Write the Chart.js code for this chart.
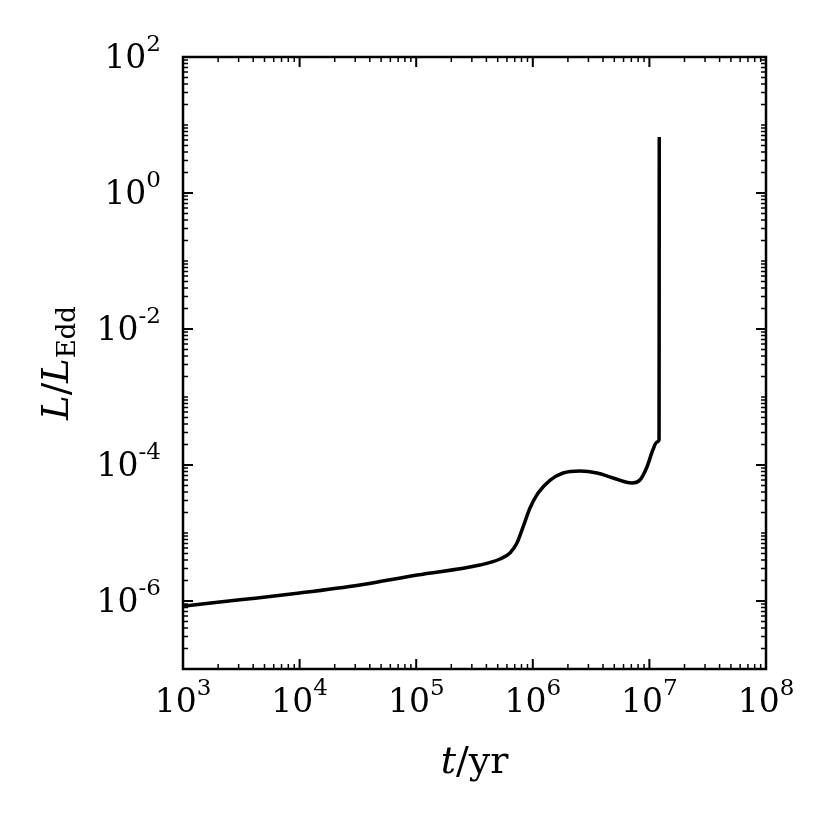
<!DOCTYPE html>
<html>
<head>
<meta charset="utf-8">
<script src="https://cdn.jsdelivr.net/npm/chart.js@4.4.1/dist/chart.umd.min.js"></script>
<style>
  html, body { margin: 0; padding: 0; background: #fff; }
  canvas { display: block; }
</style>
</head>
<body>
<canvas id="myChart" width="830" height="830"></canvas>
<script>
// time in years and luminosity in Eddington units
const tYears = [1.0e3, 3.08e3, 1.0e4, 3.3e4, 1.02e5, 3.52e5, 5.24e5, 6.37e5, 7.31e5, 8.24e5,
                9.46e5, 1.11e6, 1.41e6, 1.82e6, 2.54e6, 3.56e6, 4.88e6, 7.10e6, 8.30e6,
                9.53e6, 1.07e7, 1.16e7, 1.21e7, 1.215e7];
const lumRatio = [8.4e-7, 1.04e-6, 1.31e-6, 1.72e-6, 2.41e-6, 3.38e-6, 4.15e-6, 5.08e-6, 7.13e-6, 1.22e-5,
                  2.33e-5, 3.87e-5, 6.01e-5, 7.62e-5, 8.17e-5, 7.62e-5, 6.44e-5, 5.43e-5, 6.01e-5,
                  9.35e-5, 1.66e-4, 2.18e-4, 2.33e-4, 6.67];

const xTickExps = [3, 4, 5, 6, 7, 8];
const yTickExps = [2, 0, -2, -4, -6];
const xMinExp = 3, xMaxExp = 8;
const yMinExp = -7, yMaxExp = 2;

const points = tYears.map((t, i) => ({ x: t, y: lumRatio[i] }));

const FONT = '"DejaVu Serif", serif';

function drawPow(ctx, exp, x, baseline, align) {
  const base = '10', sup = String(exp);
  ctx.font = '33px ' + FONT;
  const wb = ctx.measureText(base).width;
  ctx.font = '23px ' + FONT;
  const ws = ctx.measureText(sup).width;
  const w = wb + ws;
  let x0 = align == 'center' ? x - w / 2 : x - w;
  ctx.textAlign = 'left';
  ctx.textBaseline = 'alphabetic';
  ctx.font = '33px ' + FONT;
  ctx.fillText(base, x0, baseline);
  ctx.font = '23px ' + FONT;
  ctx.fillText(sup, x0 + wb, baseline - 17);
}

const axesPlugin = {
  id: 'axesPlugin',
  afterDraw(chart) {
    const ctx = chart.ctx;
    const a = chart.chartArea;
    const xs = chart.scales.x, ys = chart.scales.y;
    ctx.save();
    ctx.fillStyle = '#000';
    ctx.strokeStyle = '#000';

    // ticks, pointing inward on all four sides
    for (let e = xMinExp; e <= xMaxExp; e++) {
      for (let m = 1; m < 10; m++) {
        const v = m * Math.pow(10, e);
        if (v > Math.pow(10, xMaxExp)) break;
        const px = xs.getPixelForValue(v);
        const len = m == 1 ? 10 : 5;
        ctx.lineWidth = m == 1 ? 2 : 1.5;
        ctx.beginPath();
        ctx.moveTo(px, a.bottom); ctx.lineTo(px, a.bottom - len);
        ctx.moveTo(px, a.top); ctx.lineTo(px, a.top + len);
        ctx.stroke();
      }
    }
    for (let e = yMinExp; e <= yMaxExp; e++) {
      for (let m = 1; m < 10; m++) {
        const v = m * Math.pow(10, e);
        if (v > Math.pow(10, yMaxExp)) break;
        const py = ys.getPixelForValue(v);
        const len = (m == 1 && yTickExps.includes(e)) ? 10 : 5;
        ctx.lineWidth = len == 10 ? 2 : 1.5;
        ctx.beginPath();
        ctx.moveTo(a.left, py); ctx.lineTo(a.left + len, py);
        ctx.moveTo(a.right, py); ctx.lineTo(a.right - len, py);
        ctx.stroke();
      }
    }

    // frame
    ctx.lineWidth = 2.5;
    ctx.strokeRect(a.left, a.top, a.right - a.left, a.bottom - a.top);

    // tick labels
    xTickExps.forEach(e => {
      drawPow(ctx, e, xs.getPixelForValue(Math.pow(10, e)), a.bottom + 43, 'center');
    });
    yTickExps.forEach(e => {
      drawPow(ctx, e, a.left - 22, ys.getPixelForValue(Math.pow(10, e)) + 11, 'right');
    });

    // x axis title: t/yr
    ctx.textBaseline = 'alphabetic';
    ctx.textAlign = 'left';
    ctx.font = 'italic 38px ' + FONT;
    const wt = ctx.measureText('t').width;
    ctx.font = '38px ' + FONT;
    const wr = ctx.measureText('/yr').width;
    const cx = (a.left + a.right) / 2;
    let sx = cx - (wt + wr) / 2;
    ctx.font = 'italic 38px ' + FONT;
    ctx.fillText('t', sx, 773);
    ctx.font = '38px ' + FONT;
    ctx.fillText('/yr', sx + wt, 773);

    // y axis title: L/L_Edd
    ctx.translate(68, (a.top + a.bottom) / 2);
    ctx.rotate(-Math.PI / 2);
    ctx.font = 'italic 37px ' + FONT;
    const wL = ctx.measureText('L').width;
    ctx.font = '37px ' + FONT;
    const wS = ctx.measureText('/').width;
    ctx.font = '26px ' + FONT;
    const wE = ctx.measureText('Edd').width;
    let yx = -(wL * 2 + wS + wE) / 2;
    ctx.font = 'italic 37px ' + FONT;
    ctx.fillText('L', yx, 0);
    ctx.font = '37px ' + FONT;
    ctx.fillText('/', yx + wL, 0);
    ctx.font = 'italic 37px ' + FONT;
    ctx.fillText('L', yx + wL + wS, 0);
    ctx.font = '26px ' + FONT;
    ctx.fillText('Edd', yx + wL * 2 + wS, 7);
    ctx.restore();
  }
};

var chart = new Chart('myChart', {
  type: 'scatter',
  data: {
    datasets: [
      {
        data: points,
        showLine: true,
        borderColor: '#000',
        borderWidth: 3.5,
        pointRadius: 0,
        cubicInterpolationMode: 'monotone',
        fill: false
      }
    ]
  },
  options: {
    responsive: false,
    animation: false,
    devicePixelRatio: 1,
    layout: { padding: { left: 183, right: 64, top: 57, bottom: 161 } },
    scales: {
      x: { type: 'logarithmic', min: 1e3, max: 1e8, display: false },
      y: { type: 'logarithmic', min: 1e-7, max: 1e2, display: false }
    },
    plugins: { legend: { display: false }, tooltip: { enabled: false } }
  },
  plugins: [axesPlugin]
});
</script>
</body>
</html>
